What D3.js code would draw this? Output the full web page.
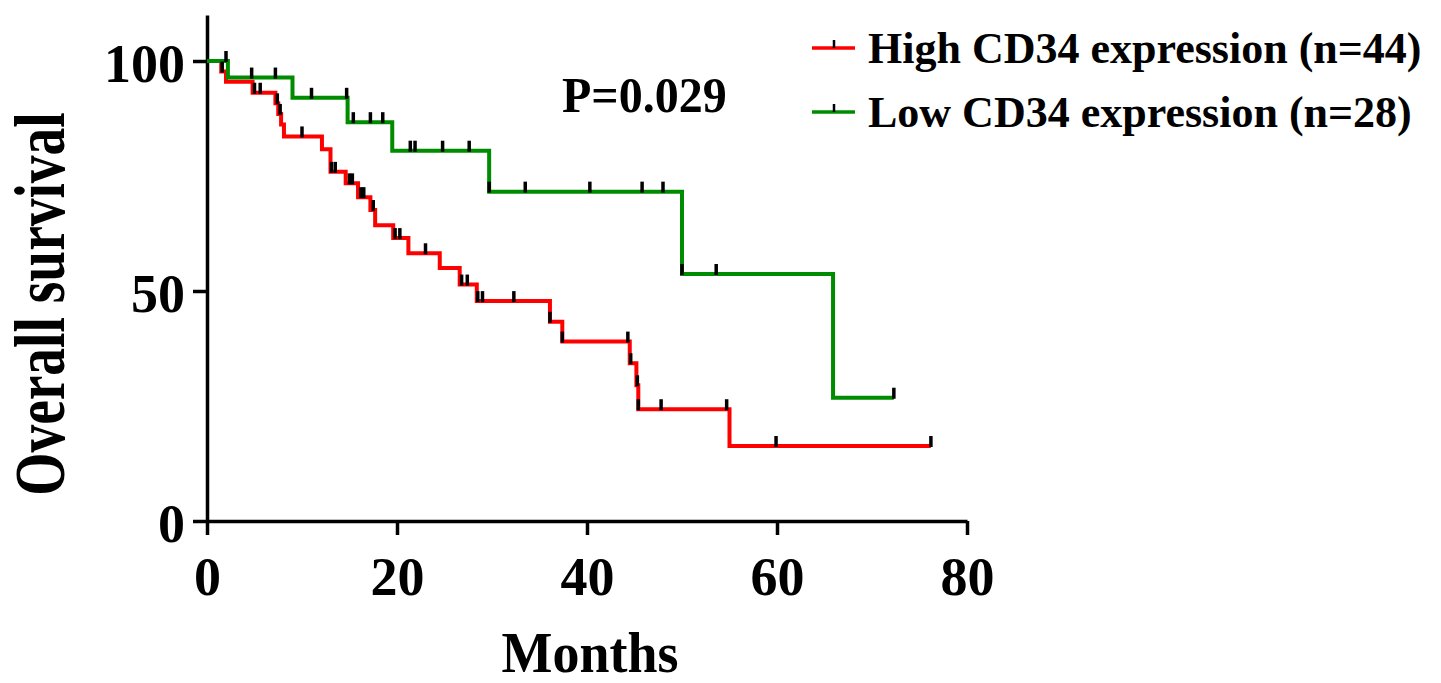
<!DOCTYPE html>
<html>
<head>
<meta charset="utf-8">
<script src="https://cdn.jsdelivr.net/npm/d3@7"></script>
<style>
  html, body { margin: 0; padding: 0; background: #fff; }
  svg { display: block; }
  text { font-family: "Liberation Serif", "Times New Roman", serif; font-weight: bold; fill: #000; }
</style>
</head>
<body>
<svg id="chart" width="1441" height="683"></svg>
<script>
// ---- data ----
const seriesNames = ["High CD34 expression (n=44)", "Low CD34 expression (n=28)"];
const seriesColors = ["#ff0000", "#008c00"];

const highTimes = [0, 1.5, 2.0, 4.8, 7.2, 7.5, 7.8, 8.1, 12.1, 13.0, 14.6, 15.9, 17.2, 17.7, 19.6, 21.2, 24.5, 26.6, 28.4, 36.1, 37.4, 44.5, 45.2, 45.4, 55.0, 76.2];
const highSurv  = [100, 97.7, 95.5, 93.1, 90.8, 88.5, 86.2, 83.6, 80.8, 75.9, 73.4, 70.4, 67.6, 64.3, 61.5, 58.2, 55.0, 51.4, 47.8, 43.3, 39.0, 34.3, 29.5, 24.3, 16.3, 16.3];
const highCensor = [1.6, 5.0, 5.6, 7.4, 7.7, 10.0, 13.1, 13.5, 15.0, 15.3, 16.2, 16.5, 17.5, 19.8, 20.3, 23.0, 26.8, 27.4, 28.5, 29.0, 32.3, 36.1, 37.4, 44.3, 44.6, 45.3, 45.4, 47.8, 54.7, 59.9, 76.2];

const lowTimes = [0, 2.2, 9.0, 14.8, 19.5, 29.7, 50.0, 65.9, 72.3];
const lowSurv  = [100, 96.4, 92.0, 86.7, 80.5, 71.6, 53.7, 26.8, 26.8];
const lowCensor = [2.0, 4.7, 7.2, 11.0, 14.7, 15.4, 17.2, 18.5, 21.4, 21.9, 24.8, 27.6, 29.7, 33.5, 40.3, 45.8, 48.0, 50.0, 53.6, 72.3];

const xTicks = [0, 20, 40, 60, 80];
const yTicks = [0, 50, 100];
const pValueLabel = "P=0.029";
const xTitle = "Months";
const yTitle = "Overall survival";

// ---- chart ----
const svg = d3.select("#chart");
const x = d3.scaleLinear().domain([0, 80]).range([207, 967]);
const y = d3.scaleLinear().domain([0, 110]).range([521, 15]);

const series = [
  { times: highTimes, surv: highSurv, censor: highCensor, color: seriesColors[0] },
  { times: lowTimes, surv: lowSurv, censor: lowCensor, color: seriesColors[1] }
];

function levelAt(s, t) {
  let v = s.surv[0];
  for (let i = 0; i < s.times.length; i++) if (s.times[i] <= t) v = s.surv[i];
  return v;
}

const line = d3.line().x(d => x(d[0])).y(d => y(d[1])).curve(d3.curveStepAfter);

// axes
const xAxis = d3.axisBottom(x).tickValues(xTicks).tickSize(14).tickSizeOuter(0).tickPadding(8);
const yAxis = d3.axisLeft(y).tickValues(yTicks).tickSize(14).tickSizeOuter(0).tickPadding(6);

const gx = svg.append("g").attr("transform", `translate(0,${y(0)})`).call(xAxis);
const gy = svg.append("g").attr("transform", `translate(${x(0)},0)`).call(yAxis);
[gx, gy].forEach(g => {
  g.select(".domain").attr("stroke", "#000").attr("stroke-width", 3.5);
  g.selectAll(".tick line").attr("stroke", "#000").attr("stroke-width", 3.5);
  g.selectAll(".tick text").attr("font-family", '"Liberation Serif", serif')
    .attr("font-weight", "bold").attr("font-size", 54).attr("fill", "#000");
});
gx.selectAll(".tick text").attr("dy", null).attr("y", 74);
gy.selectAll(".tick text").attr("dy", null).attr("y", 20).attr("x", -22);

// curves
series.forEach(s => {
  const pts = s.times.map((t, i) => [t, s.surv[i]]);
  svg.append("path").datum(pts).attr("d", line)
    .attr("fill", "none").attr("stroke", s.color).attr("stroke-width", 4);
});
// censor marks
series.forEach(s => {
  svg.append("g").selectAll("line").data(s.censor).join("line")
    .attr("x1", d => x(d)).attr("x2", d => x(d))
    .attr("y1", d => y(levelAt(s, d)) + 1).attr("y2", d => y(levelAt(s, d)) - 10)
    .attr("stroke", "#000").attr("stroke-width", 3.5);
});

// p-value
svg.append("text").attr("transform", "translate(562,112) scale(0.96,1)")
  .attr("font-size", 50).text(pValueLabel);

// axis titles
svg.append("text").attr("transform", "translate(590,672) scale(0.93,1)").attr("text-anchor", "middle")
  .attr("font-size", 58).text(xTitle);
svg.append("text").attr("transform", "translate(64,304) rotate(-90) scale(0.77,1)").attr("text-anchor", "middle")
  .attr("font-size", 72).text(yTitle);

// legend
const legendY = [48, 112];
seriesNames.forEach((name, i) => {
  const g = svg.append("g");
  g.append("line").attr("x1", 812).attr("x2", 855).attr("y1", legendY[i]).attr("y2", legendY[i])
    .attr("stroke", seriesColors[i]).attr("stroke-width", 3.5);
  g.append("line").attr("x1", 834).attr("x2", 834).attr("y1", legendY[i]).attr("y2", legendY[i] - 8)
    .attr("stroke", "#000").attr("stroke-width", 2.5);
  g.append("text").attr("x", 868).attr("y", legendY[i] + 15).attr("font-size", 44).text(name);
});
</script>
</body>
</html>
